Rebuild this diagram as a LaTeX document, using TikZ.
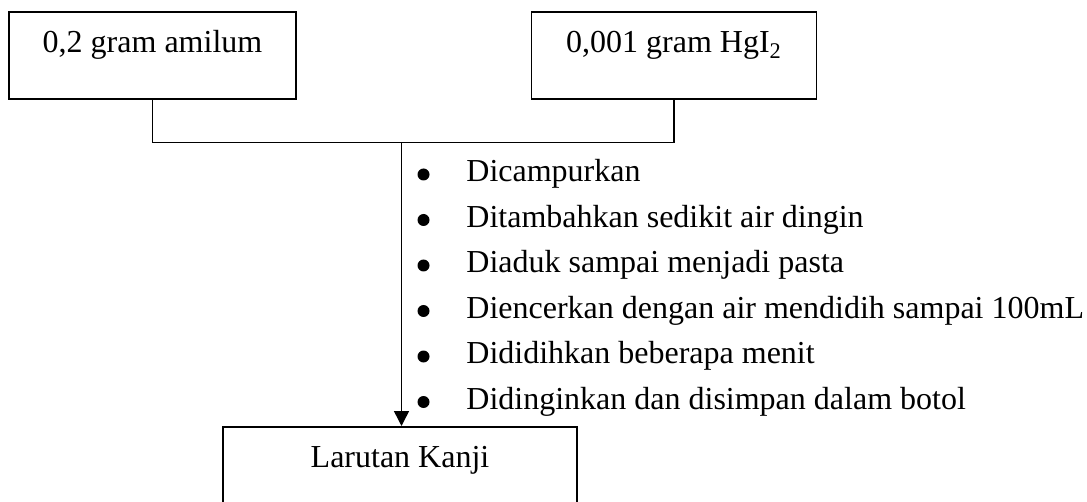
\documentclass[tikz,border=0pt]{standalone}
\usepackage{fontspec}
\setmainfont{Liberation Serif}
\usetikzlibrary{arrows.meta}
\begin{document}
\begin{tikzpicture}[x=0.5pt,y=-0.5pt,
  every node/.style={font=\fontsize{16pt}{19pt}\selectfont},
  boxnode/.style={draw,line width=0.8pt,rectangle,inner xsep=0pt,inner ysep=0pt,align=center},
  bulletdot/.style={circle,fill=black,inner sep=0pt,minimum size=6pt},
  itemtext/.style={anchor=base west,inner sep=0pt},
  link/.style={line width=0.75pt},
  arrowlink/.style={line width=0.75pt,-{Triangle[length=7.5pt,width=7.5pt]}}]
\clip (0,0) rectangle (1087,502);
\useasboundingbox (0,0) rectangle (1087,502);
% boxes (text height = distance top->baseline)
\node[boxnode,minimum width=143.5pt,text height=20.5pt,text depth=23pt] (b1) at (152.5,55.5) {0,2 gram amilum};
\node[boxnode,minimum width=142.5pt,text height=20.5pt,text depth=23pt] (b2) at (674,55.5) {0,001 gram HgI\textsubscript{2}};
\node[boxnode,minimum width=177pt,text height=20.5pt,text depth=36pt,anchor=north] (b3) at (400,426) {Larutan Kanji};
% connectors
\coordinate (j) at (401.5,142.5);
\draw[link] (b1.south) |- (j);
\draw[link] (b2.south) |- (j);
\draw[arrowlink] (j) -- (j |- b3.north);
% bullet list
\foreach \i/\t [count=\k] in {182/Dicampurkan,227.5/Ditambahkan sedikit air dingin,273/Diaduk sampai menjadi pasta,318.5/Diencerkan dengan air mendidih sampai 100mL,364/Dididihkan beberapa menit,409.5/Didinginkan dan disimpan dalam botol}{
  \node[bulletdot] (d\k) at (423.5,\i-7.5) {};
  \node[itemtext] (t\k) at (466,\i) {\t};
}
\end{tikzpicture}
\end{document}
